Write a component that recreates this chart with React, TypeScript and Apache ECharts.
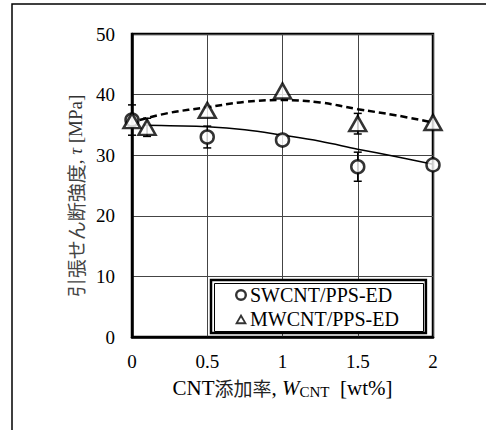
import React, { useEffect, useRef } from "react";
import * as echarts from "echarts";

// Data
const swX = [0, 0.5, 1, 1.5, 2];
const swY = [35.8, 33.0, 32.5, 28.1, 28.4];
const swErr = [2.5, 1.8, 0, 2.4, 0];

const mwX = [0, 0.1, 0.5, 1, 1.5, 2];
const mwY = [35.7, 34.6, 37.4, 40.6, 35.2, 35.4];
const mwErr = [0, 1.5, 0, 0, 1.7, 0];

const swFitX = [0.08, 0.25, 0.5, 0.75, 1, 1.25, 1.5, 1.75, 2];
const swFitY = [34.95, 34.85, 34.7, 34.2, 33.3, 32.3, 31.0, 29.8, 28.5];

const mwFitX = [0.05, 0.25, 0.5, 0.75, 1, 1.25, 1.5, 1.75, 2];
const mwFitY = [35.8, 37.0, 37.9, 38.8, 39.1, 38.7, 37.6, 36.6, 35.4];

const seriesNames = ["SWCNT/PPS-ED", "MWCNT/PPS-ED"];

const SERIF = "Liberation Serif, serif";
const CJK = "Noto Sans CJK JP, sans-serif";

const ringIcon =
  "path://M0,6a6,6 0 1,0 12,0a6,6 0 1,0 -12,0Z M2.4,6a3.6,3.6 0 1,1 7.2,0a3.6,3.6 0 1,1 -7.2,0Z";
const triIcon =
  "path://M6,0L12.5,11.5L-0.5,11.5Z M6,4.2L2.9,9.3L9.1,9.3Z";

function errData(xs: number[], ys: number[], es: number[]) {
  return xs
    .map((x, i) => [x, ys[i] - es[i], ys[i] + es[i]])
    .filter((_, i) => es[i] > 0);
}

function errRender(params: any, api: any) {
  const x = api.value(0);
  const lo = api.coord([x, api.value(1)]);
  const hi = api.coord([x, api.value(2)]);
  const w = 4;
  const style = { stroke: "#000", lineWidth: 1.5 };
  return {
    type: "group",
    children: [
      { type: "line", shape: { x1: lo[0], y1: lo[1], x2: hi[0], y2: hi[1] }, style },
      { type: "line", shape: { x1: lo[0] - w, y1: lo[1], x2: lo[0] + w, y2: lo[1] }, style },
      { type: "line", shape: { x1: hi[0] - w, y1: hi[1], x2: hi[0] + w, y2: hi[1] }, style },
    ],
  };
}

export default function App() {
  const ref = useRef<HTMLDivElement>(null);
  useEffect(() => {
    if (!ref.current) return;
    const chart = echarts.init(ref.current, null, { renderer: "svg" });
    const option: any = {
      animation: false,
      backgroundColor: "#fff",
      grid: {
        left: 132,
        right: 53,
        top: 34,
        bottom: 93,
        show: true,
        borderColor: "#000",
        borderWidth: 2.5,
        backgroundColor: "transparent",
      },
      graphic: [
        {
          type: "rect",
          shape: { x: 12, y: 4, width: 600, height: 600 },
          style: { fill: "none", stroke: "#000", lineWidth: 1.5 },
          silent: true,
        },
        {
          type: "rect",
          z: 100,
          shape: { x: 214.5, y: 283.5, width: 209, height: 48 },
          style: { fill: "none", stroke: "#000", lineWidth: 1 },
          silent: true,
        },
        {
          type: "text",
          x: 75,
          y: 196,
          rotation: Math.PI / 2,
          silent: true,
          style: {
            text: "{c|引張せん断強度}{a|, }{i|τ}{a| [MPa]}",
            align: "center",
            verticalAlign: "middle",
            fill: "#333",
            font: "19px Liberation Serif",
            rich: {
              a: { fontFamily: SERIF, fontSize: 19, fill: "#333" },
              c: { fontFamily: CJK, fontSize: 19, fill: "#444" },
              i: { fontFamily: SERIF, fontSize: 19, fill: "#333", fontStyle: "italic" },
            },
          },
        },
      ],
      legend: {
        orient: "vertical",
        left: 211,
        top: 280,
        padding: [5, 27, 4, 24],
        itemGap: 4,
        itemWidth: 12,
        itemHeight: 12,
        borderColor: "#000",
        borderWidth: 2.5,
        backgroundColor: "#fff",
        itemStyle: { color: "#000", borderWidth: 0 },
        formatter: "{t|{name}}",
        textStyle: {
          fontFamily: SERIF,
          fontSize: 20,
          color: "#000",
          rich: { t: { fontFamily: SERIF, fontSize: 20, color: "#000", padding: [0, 0, 0, -2] } },
        },
        data: [
          { name: seriesNames[0], icon: ringIcon },
          { name: seriesNames[1], icon: triIcon },
        ],
      },
      xAxis: {
        type: "value",
        min: 0,
        max: 2,
        interval: 0.5,
        axisLine: { show: true, lineStyle: { color: "#000", width: 2.5 } },
        axisTick: { show: false },
        axisLabel: { fontFamily: SERIF, fontSize: 19, color: "#000", margin: 15 },
        splitLine: { show: true, lineStyle: { color: "#444", width: 1 } },
        name: "{a|CNT}{c|添加率}{a|, }{i|W}{s|CNT}{a|  [wt%]}",
        nameLocation: "middle",
        nameGap: 39,
        nameTextStyle: {
          color: "#000",
          rich: {
            a: { fontFamily: SERIF, fontSize: 21, color: "#000" },
            c: { fontFamily: CJK, fontSize: 19, color: "#222" },
            i: { fontFamily: SERIF, fontSize: 21, color: "#000", fontStyle: "italic" },
            s: { fontFamily: SERIF, fontSize: 15, color: "#000", verticalAlign: "bottom", padding: [8, 0, 0, 0] },
          },
        },
      },
      yAxis: {
        type: "value",
        min: 0,
        max: 50,
        interval: 10,
        axisLine: { show: true, lineStyle: { color: "#000", width: 2.5 } },
        axisTick: { show: false },
        axisLabel: { fontFamily: SERIF, fontSize: 19, color: "#000", margin: 17 },
        splitLine: { show: true, lineStyle: { color: "#444", width: 1 } },
      },
      series: [
        {
          name: "swfit",
          type: "line",
          data: swFitX.map((x, i) => [x, swFitY[i]]),
          showSymbol: false,
          smooth: 0.4,
          lineStyle: { color: "#000", width: 1.5 },
          z: 2,
          silent: true,
        },
        {
          name: "mwfit",
          type: "line",
          data: mwFitX.map((x, i) => [x, mwFitY[i]]),
          showSymbol: false,
          smooth: 0.4,
          lineStyle: { color: "#000", width: 2.5, type: [7, 4] },
          z: 2,
          silent: true,
        },
        {
          name: "swerr",
          type: "custom",
          data: errData(swX, swY, swErr),
          renderItem: errRender,
          z: 3,
          silent: true,
        },
        {
          name: "mwerr",
          type: "custom",
          data: errData(mwX, mwY, mwErr),
          renderItem: errRender,
          z: 3,
          silent: true,
        },
        {
          name: seriesNames[0],
          type: "scatter",
          symbol: "circle",
          symbolSize: 13,
          data: swX.map((x, i) => [x, swY[i]]),
          itemStyle: { color: "#fff", borderColor: "#000", borderWidth: 2.5 },
          z: 4,
        },
        {
          name: seriesNames[1],
          type: "scatter",
          symbol: "triangle",
          symbolSize: [17, 15],
          data: mwX.map((x, i) => [x, mwY[i]]),
          itemStyle: { color: "#fff", borderColor: "#000", borderWidth: 2.5 },
          z: 5,
        },
      ],
    };
    chart.setOption(option);
    return () => chart.dispose();
  }, []);
  return (
    <div
      ref={ref}
      style={{ position: "fixed", left: 0, top: 0, width: 486, height: 430 }}
    />
  );
}
